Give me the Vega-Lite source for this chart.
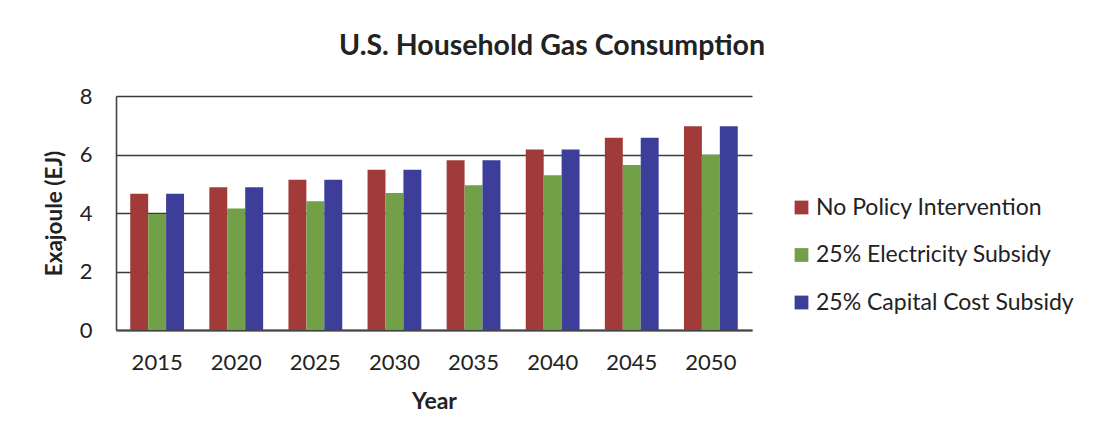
{
  "$schema": "https://vega.github.io/schema/vega-lite/v6.json",
  "width": 636,
  "height": 234,
  "autosize": {"type": "none"},
  "padding": {"left": 116, "top": 96, "right": 345, "bottom": 117},
  "background": "white",
  "title": {
    "text": "U.S. Household Gas Consumption",
    "font": "Lato",
    "fontSize": 28.5,
    "fontWeight": "bold",
    "color": "#222222",
    "anchor": "middle",
    "dx": 118,
    "offset": 25
  },
  "data": {
    "values": [
      {"year": "2015", "scenario": "No Policy Intervention", "ej": 4.66},
      {"year": "2015", "scenario": "25% Electricity Subsidy", "ej": 3.97},
      {"year": "2015", "scenario": "25% Capital Cost Subsidy", "ej": 4.66},
      {"year": "2020", "scenario": "No Policy Intervention", "ej": 4.88},
      {"year": "2020", "scenario": "25% Electricity Subsidy", "ej": 4.15},
      {"year": "2020", "scenario": "25% Capital Cost Subsidy", "ej": 4.88},
      {"year": "2025", "scenario": "No Policy Intervention", "ej": 5.14},
      {"year": "2025", "scenario": "25% Electricity Subsidy", "ej": 4.40},
      {"year": "2025", "scenario": "25% Capital Cost Subsidy", "ej": 5.14},
      {"year": "2030", "scenario": "No Policy Intervention", "ej": 5.48},
      {"year": "2030", "scenario": "25% Electricity Subsidy", "ej": 4.68},
      {"year": "2030", "scenario": "25% Capital Cost Subsidy", "ej": 5.48},
      {"year": "2035", "scenario": "No Policy Intervention", "ej": 5.80},
      {"year": "2035", "scenario": "25% Electricity Subsidy", "ej": 4.95},
      {"year": "2035", "scenario": "25% Capital Cost Subsidy", "ej": 5.80},
      {"year": "2040", "scenario": "No Policy Intervention", "ej": 6.17},
      {"year": "2040", "scenario": "25% Electricity Subsidy", "ej": 5.29},
      {"year": "2040", "scenario": "25% Capital Cost Subsidy", "ej": 6.17},
      {"year": "2045", "scenario": "No Policy Intervention", "ej": 6.57},
      {"year": "2045", "scenario": "25% Electricity Subsidy", "ej": 5.64},
      {"year": "2045", "scenario": "25% Capital Cost Subsidy", "ej": 6.57},
      {"year": "2050", "scenario": "No Policy Intervention", "ej": 6.97},
      {"year": "2050", "scenario": "25% Electricity Subsidy", "ej": 5.99},
      {"year": "2050", "scenario": "25% Capital Cost Subsidy", "ej": 6.97}
    ]
  },
  "mark": {"type": "bar"},
  "encoding": {
    "x": {
      "field": "year",
      "type": "nominal",
      "scale": {"paddingInner": 0.32, "paddingOuter": 0.18},
      "axis": {
        "title": "Year",
        "labelAngle": 0,
        "labelFont": "Lato",
        "labelFontSize": 22,
        "labelColor": "#222222",
        "labelPadding": 22,
        "titleFont": "Lato",
        "titleFontSize": 23,
        "titleFontWeight": "bold",
        "titleColor": "#222222",
        "titlePadding": 17,
        "ticks": false,
        "domainColor": "#444444",
        "domainWidth": 2
      }
    },
    "xOffset": {
      "field": "scenario",
      "type": "nominal",
      "sort": ["No Policy Intervention", "25% Electricity Subsidy", "25% Capital Cost Subsidy"],
      "scale": {"paddingInner": 0, "paddingOuter": 0}
    },
    "y": {
      "field": "ej",
      "type": "quantitative",
      "scale": {"domain": [0, 8], "nice": false},
      "axis": {
        "title": "Exajoule (EJ)",
        "values": [0, 2, 4, 6, 8],
        "labelFont": "Lato",
        "labelFontSize": 22,
        "labelColor": "#222222",
        "labelPadding": 24,
        "titleFont": "Lato",
        "titleFontSize": 22.5,
        "titleFontWeight": "bold",
        "titleColor": "#222222",
        "titlePadding": 13,
        "ticks": false,
        "grid": true,
        "gridColor": "#3a3a3a",
        "gridWidth": 1.6,
        "domainColor": "#444444",
        "domainWidth": 1.6
      }
    },
    "color": {
      "field": "scenario",
      "type": "nominal",
      "sort": ["No Policy Intervention", "25% Electricity Subsidy", "25% Capital Cost Subsidy"],
      "scale": {
        "domain": ["No Policy Intervention", "25% Electricity Subsidy", "25% Capital Cost Subsidy"],
        "range": ["#A13B3A", "#72A049", "#3C3E9A"]
      },
      "legend": {
        "title": null,
        "orient": "none",
        "legendX": 674,
        "legendY": 100,
        "symbolType": "square",
        "symbolSize": 190,
        "symbolStrokeWidth": 0,
        "labelFont": "Lato",
        "labelFontSize": 23,
        "labelColor": "#222222",
        "labelOffset": 3,
        "rowPadding": 23.5,
        "labelLimit": 400
      }
    }
  },
  "config": {
    "view": {"stroke": null}
  }
}
